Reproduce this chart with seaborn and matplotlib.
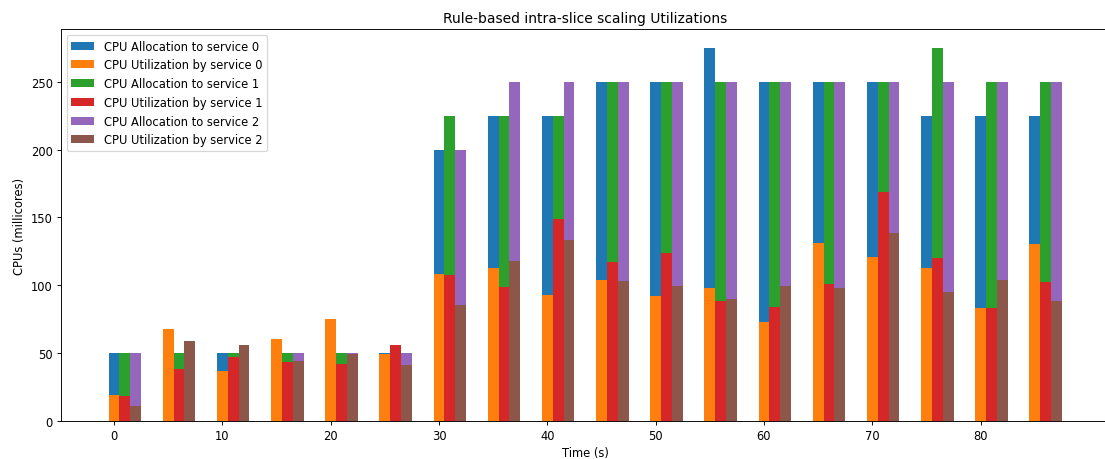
import matplotlib
matplotlib.use("Agg")
import matplotlib.pyplot as plt
import seaborn as sns
import pandas as pd

times = [0, 5, 10, 15, 20, 25, 30, 35, 40, 45, 50, 55, 60, 65, 70, 75, 80, 85]
alloc0 = [50, 50, 50, 50, 50, 50, 200, 225, 225, 250, 250, 275, 250, 250, 250, 225, 225, 225]
util0 = [19, 68, 37, 60, 75, 49.5, 108, 113, 92.5, 104, 92, 98, 73, 131, 121, 113, 83, 130]
alloc1 = [50, 50, 50, 50, 50, 50, 225, 225, 225, 250, 250, 250, 250, 250, 250, 275, 250, 250]
util1 = [18, 38, 47, 43, 42, 55.5, 107.5, 99, 149, 117, 123.5, 88, 84, 100.5, 169, 120, 83, 102]
alloc2 = [50, 50, 50, 50, 50, 50, 200, 250, 250, 250, 250, 250, 250, 250, 250, 250, 250, 250]
util2 = [11, 59, 55.5, 44, 49, 41, 85.5, 118, 133.5, 103, 99.5, 89.5, 99.5, 98, 138.5, 95, 104, 88]

series = [
    ("CPU Allocation to service 0", alloc0, 0, "C0"),
    ("CPU Utilization by service 0", util0, 0, "C1"),
    ("CPU Allocation to service 1", alloc1, 1, "C2"),
    ("CPU Utilization by service 1", util1, 1, "C3"),
    ("CPU Allocation to service 2", alloc2, 2, "C4"),
    ("CPU Utilization by service 2", util2, 2, "C5"),
]

DPI = 83
fig = plt.figure(figsize=(1105 / DPI, 460 / DPI), dpi=DPI)
ax = fig.add_axes([61 / 1105, 38.3 / 460, 1048.5 / 1105, 391.4 / 460])

for label, vals, off, color in series:
    df = pd.DataFrame({"x": [t + off for t in times], "y": vals})
    sns.barplot(data=df, x="x", y="y", native_scale=True, width=0.2,
                color=color, saturation=1, errorbar=None, linewidth=0,
                label=label, ax=ax)

ax.set_xlim(-4.9, 91.9)
ax.set_ylim(0, 288.75)
ax.set_xticks([0, 10, 20, 30, 40, 50, 60, 70, 80])
ax.set_yticks([0, 50, 100, 150, 200, 250])
ax.set_xlabel("Time (s)")
ax.set_ylabel("CPUs (millicores)")
ax.set_title("Rule-based intra-slice scaling Utilizations")
ax.legend(loc="upper left")

fig.savefig("out.png", dpi=DPI)
